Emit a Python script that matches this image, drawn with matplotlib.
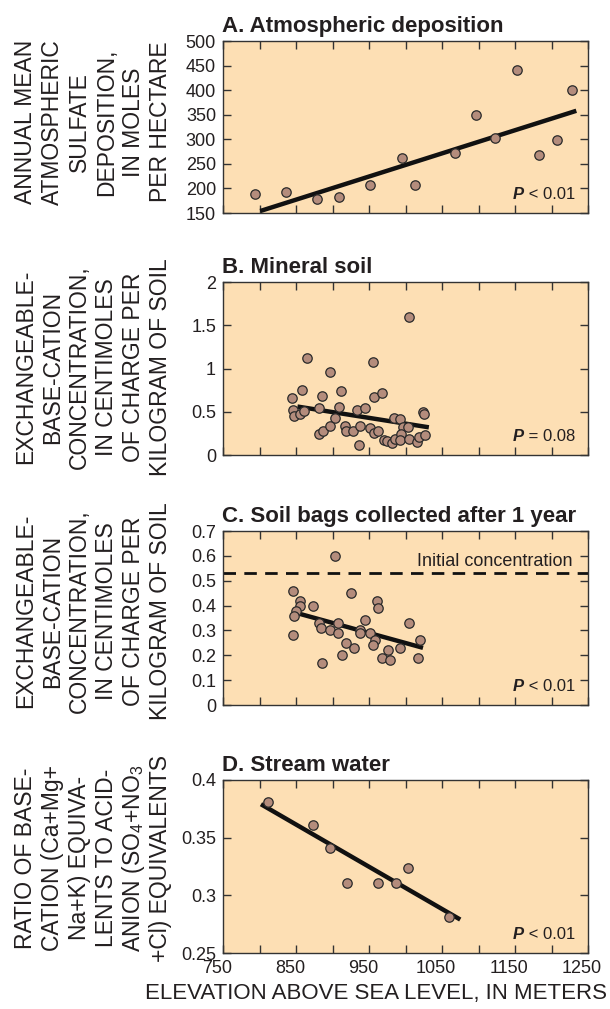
import numpy as np
import matplotlib
matplotlib.use('Agg')
import matplotlib.pyplot as plt
import matplotlib.transforms as mtransforms

plt.rcParams['font.family'] = ['Liberation Sans', 'DejaVu Sans']
plt.rcParams['mathtext.fontset'] = 'custom'
plt.rcParams['mathtext.rm'] = 'Liberation Sans'
plt.rcParams['mathtext.it'] = 'Liberation Sans:italic'
plt.rcParams['mathtext.bf'] = 'Liberation Sans:bold'

# ---- data ----
# A. Atmospheric deposition
a_elev = [794, 836, 879, 909, 952, 995, 1013, 1068, 1097, 1123, 1153, 1183, 1207, 1228]
a_sulfate = [188, 192, 178, 183, 207, 261, 206, 272, 349, 302, 442, 269, 299, 401]
a_fit_x = [801, 1234]
a_fit_y = [154, 358]

# B. Mineral soil
b_elev = [865, 956, 897, 858, 845, 885, 912, 957, 968, 846, 847, 856, 861, 882,
          909, 903, 934, 944, 882, 887, 897, 917, 919, 928, 938, 936, 951, 957,
          962, 971, 975, 981, 986, 984, 993, 996, 994, 1004, 993, 1005, 1016,
          1019, 1027, 1024, 1025, 1005]
b_conc = [1.12, 1.07, 0.96, 0.75, 0.66, 0.68, 0.74, 0.67, 0.72, 0.52, 0.45, 0.47,
          0.51, 0.54, 0.56, 0.43, 0.52, 0.54, 0.24, 0.28, 0.33, 0.33, 0.28, 0.28,
          0.34, 0.12, 0.31, 0.26, 0.28, 0.17, 0.16, 0.14, 0.18, 0.43, 0.42, 0.32,
          0.24, 0.32, 0.17, 0.19, 0.15, 0.21, 0.23, 0.50, 0.47, 1.60]
b_fit_x = [852, 1032]
b_fit_y = [0.56, 0.32]

# C. Soil bags collected after 1 year
c_elev = [903, 846, 856, 856, 873, 850, 847, 846, 925, 961, 962, 882, 884, 897,
          907, 908, 885, 913, 919, 929, 944, 937, 938, 952, 958, 956, 976, 968,
          979, 993, 1005, 1020, 1017]
c_conc = [0.60, 0.46, 0.42, 0.40, 0.40, 0.38, 0.36, 0.28, 0.45, 0.42, 0.39, 0.33,
          0.31, 0.30, 0.33, 0.29, 0.17, 0.20, 0.25, 0.23, 0.34, 0.30, 0.29, 0.29,
          0.26, 0.24, 0.22, 0.19, 0.18, 0.23, 0.33, 0.26, 0.19]
c_fit_x = [851, 1024]
c_fit_y = [0.37, 0.23]
c_initial = 0.53

# D. Stream water
d_elev = [812, 873, 897, 920, 963, 987, 1004, 1059]
d_ratio = [0.381, 0.361, 0.341, 0.311, 0.311, 0.311, 0.324, 0.281]
d_fit_x = [802, 1075]
d_fit_y = [0.379, 0.279]

titles = ['A. Atmospheric deposition', 'B. Mineral soil',
          'C. Soil bags collected after 1 year', 'D. Stream water']
p_texts = [' < 0.01', ' = 0.08', ' < 0.01', ' < 0.01']

yticks = [[150, 200, 250, 300, 350, 400, 450, 500],
          [0, 0.5, 1, 1.5, 2],
          [0, 0.1, 0.2, 0.3, 0.4, 0.5, 0.6, 0.7],
          [0.25, 0.3, 0.35, 0.4]]
ytick_labels = [['150', '200', '250', '300', '350', '400', '450', '500'],
                ['0', '0.5', '1', '1.5', '2'],
                ['0', '0.1', '0.2', '0.3', '0.4', '0.5', '0.6', '0.7'],
                ['0.25', '0.3', '0.35', '0.4']]
xticks = [750, 800, 850, 900, 950, 1000, 1050, 1100, 1150, 1200, 1250]
xtick_labels = ['750', '', '850', '', '950', '', '1050', '', '1150', '', '1250']

soil_label = ['EXCHANGEABLE-', 'BASE-CATION', 'CONCENTRATION,', 'IN CENTIMOLES',
              'OF CHARGE PER', 'KILOGRAM OF SOIL']
ylabels = [['ANNUAL MEAN', 'ATMOSPHERIC', 'SULFATE', 'DEPOSITION,', 'IN MOLES', 'PER HECTARE'],
           soil_label,
           soil_label,
           ['RATIO OF BASE-', 'CATION (Ca+Mg+', 'Na+K) EQUIVA-', 'LENTS TO ACID-',
            r'ANION (SO$_4$+NO$_3$', '+Cl) EQUIVALENTS']]

# ---- style ----
W, H = 610, 1009
BG = '#fddfb4'
DOT = '#b48c7c'
EDGE = '#2a2a2a'
TXT = '#231f20'

fig = plt.figure(figsize=(W / 100, H / 100), dpi=100)

# axes boxes in pixels: (top, bottom)
boxes = [(41, 213), (282, 455), (531, 705), (780, 953)]
label_mid = [122, 367, 611, 858]
line_base = [32, 59, 86, 113, 140, 167]
ylims = [(150, 500), (0, 2), (0, 0.7), (0.25, 0.4)]

xs = [a_elev, b_elev, c_elev, d_elev]
ys = [a_sulfate, b_conc, c_conc, d_ratio]
fits = [(a_fit_x, a_fit_y), (b_fit_x, b_fit_y), (c_fit_x, c_fit_y), (d_fit_x, d_fit_y)]

axes = []
for i in range(4):
    top, bot = boxes[i]
    ax = fig.add_axes([223 / W, 1 - bot / H, 365 / W, (bot - top) / H])
    ax.set_facecolor(BG)
    ax.plot(fits[i][0], fits[i][1], color='#111111', lw=3.2, solid_capstyle='butt', zorder=2)
    ax.scatter(xs[i], ys[i], s=46, color=DOT, edgecolor=EDGE, linewidth=0.9, zorder=3)
    ax.set_xlim(750, 1250)
    ax.set_ylim(*ylims[i])
    ax.set_xticks(xticks)
    ax.set_yticks(yticks[i])
    ax.set_yticklabels(ytick_labels[i])
    if i == 3:
        ax.set_xticklabels(xtick_labels)
    else:
        ax.set_xticklabels([])
    ax.tick_params(direction='in', length=5.5, width=1.0, color='#333333',
                   top=True, right=True, labelsize=13, labelcolor=TXT, pad=5)
    for sp in ax.spines.values():
        sp.set_color('#333333')
        sp.set_linewidth(1.0)

    # panel title
    ax.annotate(titles[i], xy=(0, 1), xycoords='axes fraction', xytext=(-1, 9),
                textcoords='offset pixels', ha='left', va='baseline',
                fontsize=16, fontweight='bold', color=TXT)

    # P value
    t = ax.annotate(p_texts[i], xy=(1, 0), xycoords='axes fraction', xytext=(-13, 14),
                    textcoords='offset pixels', ha='right', va='baseline',
                    fontsize=12, color=TXT)
    ax.annotate('P', xy=(0, 0), xycoords=t, ha='right', va='bottom',
                fontsize=12, fontweight='bold', fontstyle='italic', color=TXT)

    # multi-line rotated y label, one line at a time
    for k, line in enumerate(ylabels[i]):
        fig.text(line_base[k] / W, 1 - label_mid[i] / H, line, rotation=90,
                 rotation_mode='anchor', ha='center', va='baseline',
                 fontsize=16.5, color=TXT)
    axes.append(ax)

# initial concentration line in panel C
axC = axes[2]
axC.axhline(c_initial, color='#111111', lw=2.0, dashes=(4.5, 3), zorder=2)
axC.text(1229, c_initial + 0.028, 'Initial concentration', ha='right', va='baseline',
         fontsize=13, color=TXT)

# x tick labels sit a little left of their ticks in the original
shift = mtransforms.ScaledTranslation(-6 / 100, 0, fig.dpi_scale_trans)
for lab in axes[3].get_xticklabels():
    lab.set_transform(lab.get_transform() + shift)

fig.text(376 / W, 1 - 993 / H, 'ELEVATION ABOVE SEA LEVEL, IN METERS',
         ha='center', va='center', fontsize=16, color=TXT)

fig.savefig('out.png', dpi=100, facecolor='white')
